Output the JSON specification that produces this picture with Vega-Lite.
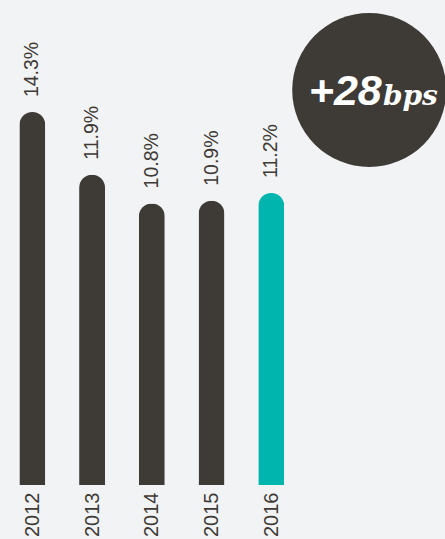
{
  "$schema": "https://vega.github.io/schema/vega-lite/v6.json",
  "width": 445,
  "height": 485,
  "autosize": {"type": "none"},
  "padding": {"left": 0, "top": 0, "right": 0, "bottom": 54},
  "background": "#f2f3f5",
  "config": {"view": {"stroke": null}},
  "data": {"values": [
    {"year": 2012, "value": 14.3, "label": "14.3%"},
    {"year": 2013, "value": 11.9, "label": "11.9%"},
    {"year": 2014, "value": 10.8, "label": "10.8%"},
    {"year": 2015, "value": 10.9, "label": "10.9%"},
    {"year": 2016, "value": 11.2, "label": "11.2%"}
  ]},
  "layer": [
    {
      "mark": {"type": "bar", "size": 26, "cornerRadiusEnd": 13},
      "encoding": {
        "x": {"field": "year", "type": "quantitative",
          "scale": {"domain": [2011.542, 2018.825], "nice": false, "zero": false},
          "axis": {"values": [2012, 2013, 2014, 2015, 2016], "format": "d", "labelAngle": -90,
            "labelAlign": "right", "labelBaseline": "middle", "labelPadding": 7,
            "domain": false, "ticks": false, "grid": false, "title": null,
            "labelFontSize": 20, "labelColor": "#3e3a36", "labelFont": "Liberation Sans",
            "labelOverlap": false, "labelBound": false, "labelFlush": false}},
        "y": {"field": "value", "type": "quantitative",
          "scale": {"domain": [0, 18.6], "nice": false, "zero": true}, "axis": null},
        "color": {"condition": {"test": "datum.year === 2016", "value": "#00b5ad"}, "value": "#3e3a36"}
      }
    },
    {
      "mark": {"type": "text", "angle": 270, "align": "left", "baseline": "middle", "yOffset": -15,
        "fontSize": 19.5, "font": "Liberation Sans", "color": "#3e3a36"},
      "encoding": {
        "x": {"field": "year", "type": "quantitative",
          "scale": {"domain": [2011.542, 2018.825], "nice": false, "zero": false}},
        "y": {"field": "value", "type": "quantitative",
          "scale": {"domain": [0, 18.6], "nice": false, "zero": true}},
        "text": {"field": "label"}
      }
    },
    {
      "data": {"values": [{"badge": "+28bps"}]},
      "mark": {"type": "point", "shape": "circle", "filled": true, "size": 23716, "color": "#3e3a36", "opacity": 1},
      "encoding": {
        "x": {"datum": 2017.64, "type": "quantitative",
          "scale": {"domain": [2011.542, 2018.825], "nice": false, "zero": false}},
        "y": {"datum": 15.15, "type": "quantitative",
          "scale": {"domain": [0, 18.6], "nice": false, "zero": true}}
      }
    },
    {
      "data": {"values": [{"main": "+28", "unit": "bps"}]},
      "mark": {"type": "text", "align": "right", "baseline": "alphabetic", "fontSize": 43,
        "font": "Liberation Sans", "fontWeight": "bold", "fontStyle": "italic", "color": "#ffffff"},
      "encoding": {
        "x": {"datum": 2017.85, "type": "quantitative",
          "scale": {"domain": [2011.542, 2018.825], "nice": false, "zero": false}},
        "y": {"datum": 14.57, "type": "quantitative",
          "scale": {"domain": [0, 18.6], "nice": false, "zero": true}},
        "text": {"field": "main"}
      }
    },
    {
      "data": {"values": [{"main": "+28", "unit": "bps"}]},
      "mark": {"type": "text", "align": "left", "baseline": "alphabetic", "fontSize": 28,
        "font": "DejaVu Serif", "fontWeight": "bold", "fontStyle": "italic", "color": "#ffffff"},
      "encoding": {
        "x": {"datum": 2017.87, "type": "quantitative",
          "scale": {"domain": [2011.542, 2018.825], "nice": false, "zero": false}},
        "y": {"datum": 14.57, "type": "quantitative",
          "scale": {"domain": [0, 18.6], "nice": false, "zero": true}},
        "text": {"field": "unit"}
      }
    }
  ]
}
